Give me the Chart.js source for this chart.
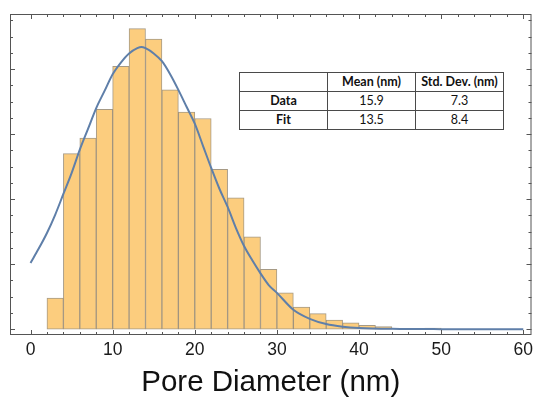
<!DOCTYPE html>
<html>
<head>
<meta charset="utf-8">
<script src="https://cdn.jsdelivr.net/npm/chart.js@4.4.1/dist/chart.umd.min.js"></script>
<style>
  html, body { margin: 0; padding: 0; background: #fff; }
  #wrap { position: relative; width: 534px; height: 398px; }
  #stats {
    position: absolute;
    left: 239px;
    top: 72px;
    width: 265px;
    border-collapse: collapse;
    font-family: "Lato", "Liberation Sans", sans-serif;
    font-size: 12.5px;
    color: #111;
    background: #fff;
  }
  #stats td {
    border: 1px solid #4a4a4a;
    height: 18px;
    padding: 0;
    text-align: center;
    line-height: 18px;
  }
  #stats .b { font-weight: bold; }
</style>
</head>
<body>
<div id="wrap">
  <canvas id="poreChart" width="534" height="398"></canvas>
  <table id="stats"></table>
</div>
<script>
// histogram bins, 2 nm wide, given by their centres
const binCenters = [3, 5, 7, 9, 11, 13, 15, 17, 19, 21, 23, 25, 27, 29, 31, 33, 35, 37, 39, 41, 43, 45, 47, 49];
const binCounts = [24, 135, 147, 169, 202, 231, 223, 184, 167, 162, 123, 101, 71, 46, 28, 17, 12, 7, 5, 3, 2, 0, 0, 1];

// fitted distribution curve
const fitX = [0, 1, 2, 3, 4, 5, 6, 7, 8, 9, 10, 11, 12, 13, 13.5, 14, 15, 16, 17, 18, 19, 20, 21, 22, 23, 24, 25, 26, 27, 28, 29, 30, 32, 34, 36, 38, 40, 45, 50, 60];
const fitY = [51, 62, 74, 88, 104, 120, 138, 154, 170, 183, 196, 205, 212, 216, 217, 216, 212, 206, 196, 184, 171, 158, 141, 124, 108, 94, 78, 64, 53, 43, 34, 28, 15, 8, 4, 2, 1, 0.3, 0.1, 0];

const xTicks = [0, 10, 20, 30, 40, 50, 60];
const xTitle = "Pore Diameter (nm)";

const tableHead = ["", "Mean (nm)", "Std. Dev. (nm)"];
const tableRowNames = ["Data", "Fit"];
const tableMeans = ["15.9", "13.5"];
const tableStdDevs = ["7.3", "8.4"];

const frameColor = "#555";

// mathematica-style frame with inward ticks on all four sides
const frameTicks = {
  id: "frameTicks",
  afterDraw(chart) {
    const { ctx, chartArea: a, scales } = chart;
    const x = scales.x;
    const y = scales.y;
    ctx.save();
    ctx.strokeStyle = frameColor;
    ctx.lineWidth = 1;
    ctx.strokeRect(a.left + 0.5, a.top + 0.5, a.right - a.left - 1, a.bottom - a.top - 1);
    ctx.beginPath();
    for (let v = 0; v <= 60; v += 2) {
      const px = Math.round(x.getPixelForValue(v)) + 0.5;
      const len = v % 10 === 0 ? 5 : 3;
      ctx.moveTo(px, a.bottom);
      ctx.lineTo(px, a.bottom - len);
      ctx.moveTo(px, a.top);
      ctx.lineTo(px, a.top + len);
    }
    for (let v = 0; v <= 240; v += 12.5) {
      const py = Math.round(y.getPixelForValue(v)) + 0.5;
      if (py < a.top + 2) continue;
      const len = v % 50 === 0 ? 5 : 3;
      ctx.moveTo(a.left, py);
      ctx.lineTo(a.left + len, py);
      ctx.moveTo(a.right, py);
      ctx.lineTo(a.right - len, py);
    }
    ctx.stroke();
    ctx.restore();
  },
};

function buildTable() {
  const t = document.getElementById("stats");
  let html = "<tr>";
  tableHead.forEach((h) => {
    html += `<td class="b" style="width:88px">${h}</td>`;
  });
  html += "</tr>";
  tableRowNames.forEach((name, i) => {
    html += `<tr><td class="b">${name}</td><td>${tableMeans[i]}</td><td>${tableStdDevs[i]}</td></tr>`;
  });
  t.innerHTML = html;
}

function initChart() {
  const ctx = document.getElementById("poreChart").getContext("2d");
  new Chart(ctx, {
    type: "bar",
    data: {
      datasets: [
        {
          type: "line",
          data: fitX.map((v, i) => ({ x: v, y: fitY[i] })),
          borderColor: "#5f7fa9",
          borderWidth: 2,
          pointRadius: 0,
          cubicInterpolationMode: "monotone",
          order: 0,
        },
        {
          type: "bar",
          data: binCenters.map((v, i) => ({ x: v, y: binCounts[i] })),
          backgroundColor: "#fccd7e",
          borderColor: "rgba(150,136,112,0.85)",
          borderWidth: 1,
          borderSkipped: false,
          barPercentage: 1,
          categoryPercentage: 1,
          order: 1,
        },
      ],
    },
    options: {
      responsive: false,
      devicePixelRatio: 1,
      animation: false,
      layout: { padding: { left: 10, top: 14, right: 2.5, bottom: 0 } },
      plugins: {
        legend: { display: false },
        tooltip: { enabled: false },
      },
      scales: {
        x: {
          type: "linear",
          offset: false,
          min: -2.5,
          max: 61,
          grid: { display: false, drawTicks: false, tickLength: 0 },
          border: { display: false },
          afterBuildTicks: (scale) => {
            scale.ticks = xTicks.map((v) => ({ value: v }));
          },
          afterFit: (scale) => {
            // fixed axis band under the frame, no side padding for end labels
            scale.height = 63;
            scale.paddingLeft = 0;
            scale.paddingRight = 0;
          },
          ticks: {
            padding: 5,
            maxRotation: 0,
            autoSkip: false,
            color: "#1a1a1a",
            font: { family: "Liberation Sans", size: 17.5 },
          },
          title: {
            display: true,
            text: xTitle,
            color: "#111",
            padding: { top: 6, bottom: 0 },
            font: { family: "Liberation Sans", size: 29.5, lineHeight: 1.0 },
          },
        },
        y: {
          type: "linear",
          min: -4.4,
          max: 242.3,
          display: false,
        },
      },
    },
    plugins: [frameTicks],
  });
}

window.onload = function () {
  buildTable();
  initChart();
};
</script>
</body>
</html>
